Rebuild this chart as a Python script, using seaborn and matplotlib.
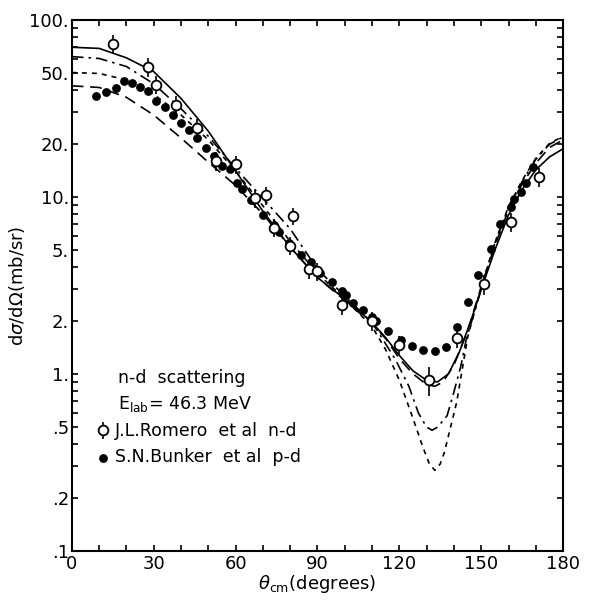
import numpy as np
import pandas as pd
import seaborn as sns
import matplotlib
matplotlib.use("Agg")
import matplotlib.pyplot as plt
from matplotlib.ticker import FixedLocator, NullFormatter

# open circles: J.L. Romero et al, n-d
theta_nd = [15, 28, 31, 38, 46, 53, 60, 67, 71, 74, 80, 81, 87, 90, 99, 110,
            120, 131, 141, 151, 161, 171]
xs_nd = [73, 54, 43, 33, 24.5, 16, 15.3, 9.8, 10.2, 6.7, 5.3, 7.8, 3.9, 3.8,
         2.45, 2.0, 1.45, 0.92, 1.6, 3.2, 7.2, 13]
err_nd = [9, 6.5, 5, 4, 3, 2, 1.8, 1.2, 1.2, 0.8, 0.6, 0.9, 0.45, 0.45,
          0.3, 0.25, 0.18, 0.17, 0.2, 0.4, 0.9, 1.6]

# filled dots: S.N. Bunker et al, p-d
theta_pd = [9, 12.5, 16, 19, 22, 25, 28, 31, 34, 37, 40, 43, 46, 49, 52, 55,
            58, 60.5, 62.5, 65.5, 70, 74, 76, 79.5, 84, 87.5, 91, 95.5, 99,
            100.5, 103, 106.5, 110, 111.5, 116, 120.5, 124.5, 128.5, 133, 137,
            141, 145, 149, 153.5, 157, 161, 162, 164.5, 166.5, 169]
xs_pd = [37, 39, 41, 45, 44, 42, 39.5, 35, 32, 29, 26, 24, 21.5, 19, 17, 15,
         14.3, 12, 11.1, 9.6, 7.9, 6.9, 6.3, 5.5, 4.7, 4.3, 3.7, 3.3, 2.95,
         2.8, 2.5, 2.3, 2.1, 2.0, 1.75, 1.55, 1.43, 1.37, 1.35, 1.42,
         1.85, 2.55, 3.6, 5.1, 7.0, 8.8, 9.7, 10.7, 11.9, 14.7]

# theory curves
th_solid = [0, 10, 20, 30, 40, 50, 60, 70, 80, 90, 100, 110, 115, 120, 125,
            130, 134, 138, 142, 146, 150, 155, 160, 165, 170, 175, 180]
xs_solid = [70, 69, 61, 51, 36, 23.5, 14, 8.3, 5.2, 3.5, 2.65, 1.95, 1.6,
            1.27, 1.04, 0.92, 0.9, 1.0, 1.33, 1.95, 3.0, 5.0, 7.9, 11, 14.2,
            16.8, 18.7]

th_dashdot = [0, 10, 20, 30, 40, 50, 60, 70, 80, 90, 100, 110, 114, 118.5,
              123.5, 127, 130, 132, 134, 137.5, 140, 142.5, 144.5, 150, 155,
              160, 165, 170, 175, 180]
xs_dashdot = [62, 60.5, 54.5, 43.5, 31.5, 22, 14.5, 9.8, 6.6, 3.9, 2.75,
              1.95, 1.56, 1.21, 0.85, 0.6, 0.5, 0.48, 0.5, 0.58, 0.79, 1.1,
              1.56, 3.0, 5.5, 8.7, 12.2, 16.3, 19.8, 21.8]

th_short = [0, 10, 20, 30, 40, 50, 60, 70, 80, 90, 100, 110, 115, 120, 125,
            128.5, 131, 133, 135, 136.5, 138.5, 141, 143, 145, 150, 155, 160,
            165, 170, 175, 180]
xs_short = [50.4, 49.8, 45.8, 38, 29, 21, 14, 8.9, 5.6, 3.7, 2.65, 1.85,
            1.37, 0.92, 0.56, 0.39, 0.31, 0.285, 0.31, 0.36, 0.48, 0.69,
            1.05, 1.6, 3.1, 5.5, 8.8, 12.4, 16.5, 20, 22]

th_long = [0, 10, 20, 30, 40, 50, 60, 70, 80, 90, 100, 110, 115, 120, 125,
           130, 133, 136, 140, 145, 150, 155, 160, 165, 170, 175, 180]
xs_long = [42.4, 41.5, 36.5, 29, 21.5, 15.7, 11.6, 8.0, 5.2, 3.5, 2.6, 1.92,
           1.58, 1.22, 1.0, 0.87, 0.85, 0.9, 1.12, 1.75, 3.1, 5.3, 8.4, 11.8,
           15.5, 19, 21]

ytick_vals = [0.1, 0.2, 0.5, 1, 2, 5, 10, 20, 50, 100]
ytick_labels = ['.1', '.2', '.5', '1.', '2.', '5.', '10.', '20.', '50.', '100.']
xtick_vals = [0, 30, 60, 90, 120, 150, 180]

sns.set_style("ticks")
plt.rcParams['font.family'] = ['DejaVu Sans']
for key in ['text.color', 'axes.labelcolor', 'xtick.color', 'ytick.color',
            'axes.edgecolor']:
    plt.rcParams[key] = 'black'

fig = plt.figure(figsize=(5.89, 6.02), dpi=100)
ax = fig.add_axes([0.122, 0.085, 0.834, 0.882])

curves = [
    (th_solid, xs_solid, '-'),
    (th_dashdot, xs_dashdot, (0, (7, 3, 1.5, 3))),
    (th_short, xs_short, (0, (3, 3))),
    (th_long, xs_long, (0, (7, 4))),
]
for th, xs, ls in curves:
    df = pd.DataFrame({'theta': th, 'xs': xs})
    sns.lineplot(data=df, x='theta', y='xs', ax=ax, color='black',
                 linestyle=ls, linewidth=1.2, sort=False)

pd_df = pd.DataFrame({'theta': theta_pd, 'xs': xs_pd})
sns.scatterplot(data=pd_df, x='theta', y='xs', ax=ax, color='black',
                s=40, edgecolor='black', linewidth=0, zorder=4,
                label='S.N.Bunker  et al  p-d')

ax.errorbar(theta_nd, xs_nd, yerr=err_nd, fmt='o', color='black',
            markerfacecolor='white', markeredgecolor='black', markersize=7,
            markeredgewidth=1.3, elinewidth=1.2, capsize=0, zorder=5,
            label='J.L.Romero  et al  n-d')

ax.set_yscale('log')
ax.set_xlim(0, 180)
ax.set_ylim(0.1, 100)

ax.yaxis.set_major_locator(FixedLocator(ytick_vals))
ax.set_yticklabels(ytick_labels)
minor = [m * 10.0 ** e for e in range(-1, 2) for m in (3, 4, 6, 7, 8, 9)]
ax.yaxis.set_minor_locator(FixedLocator(minor))
ax.yaxis.set_minor_formatter(NullFormatter())
ax.set_xticks(xtick_vals)
ax.set_xticks(range(0, 181, 10), minor=True)

ax.tick_params(which='both', direction='in', top=True, right=True,
               width=1.2, length=4.5, labelsize=13, color='black',
               labelcolor='black')
ax.tick_params(axis='x', pad=3)
ax.tick_params(axis='y', pad=2)
for sp in ax.spines.values():
    sp.set_visible(True)
    sp.set_linewidth(1.5)
    sp.set_color('black')

ax.set_xlabel(r'$\theta_{\rm cm}$(degrees)', fontsize=13, labelpad=0)
ax.set_ylabel(r'd$\sigma$/d$\Omega$(mb/sr)', fontsize=13, labelpad=2)

ax.text(0.094, 0.326, 'n-d  scattering', transform=ax.transAxes,
        fontsize=12.5, va='center')
ax.text(0.094, 0.276, r'E$_{\rm lab}$= 46.3 MeV', transform=ax.transAxes,
        fontsize=12.5, va='center')

handles, labels = ax.get_legend_handles_labels()
order = [labels.index('J.L.Romero  et al  n-d'), labels.index('S.N.Bunker  et al  p-d')]
ax.legend([handles[i] for i in order], [labels[i] for i in order],
          loc='upper left', bbox_to_anchor=(0.035, 0.255), frameon=False,
          fontsize=12.5, handlelength=0.8, handletextpad=0.3,
          labelspacing=0.45, borderaxespad=0)

fig.savefig('out.png', dpi=100)
